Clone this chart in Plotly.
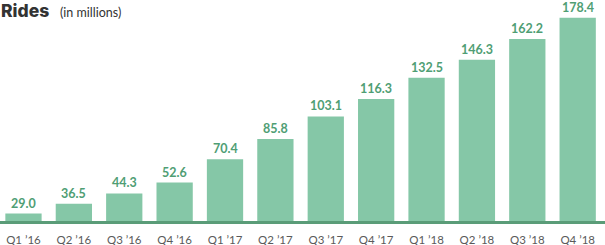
import plotly.graph_objects as go

quarters = ["Q1 ’16", "Q2 ’16", "Q3 ’16", "Q4 ’16",
            "Q1 ’17", "Q2 ’17", "Q3 ’17", "Q4 ’17",
            "Q1 ’18", "Q2 ’18", "Q3 ’18", "Q4 ’18"]
rides = [29.0, 36.5, 44.3, 52.6, 70.4, 85.8, 103.1, 116.3, 132.5, 146.3, 162.2, 178.4]
value_labels = [f"{v:.1f}" for v in rides]

BAR = "#85c7a7"
LABEL = "#4f9e74"
BASE = "#5a9c78"

fig = go.Figure()
fig.add_trace(go.Bar(
    x=list(range(len(quarters))), y=rides,
    marker=dict(color=BAR, line=dict(width=0)),
    hoverinfo="skip",
))

for i, (v, t) in enumerate(zip(rides, value_labels)):
    fig.add_annotation(x=i, y=v, text=t, showarrow=False,
                       xanchor="center", yanchor="bottom", yshift=2, borderpad=0,
                       font=dict(family="Lato", size=12.5, color=LABEL, weight="bold"))

fig.update_layout(
    width=605, height=245,
    margin=dict(l=0, r=0, t=0, b=23.5),
    paper_bgcolor="white", plot_bgcolor="white",
    bargap=0.28, showlegend=False,
    xaxis=dict(range=[-0.466, 11.542], tickmode="array",
               tickvals=list(range(len(quarters))), ticktext=quarters,
               showgrid=False, zeroline=False,
               showline=True, linecolor=BASE, linewidth=2.5,
               ticks="", ticklabelstandoff=6,
               tickfont=dict(family="Lato", size=11.5, color="#5a5a5a")),
    yaxis=dict(range=[23.3, 191.9], showgrid=False, zeroline=False,
               showticklabels=False, showline=False),
    annotations=list(fig.layout.annotations) + [
        dict(xref="paper", yref="paper", x=0, y=1, xanchor="left", yanchor="top",
             xshift=-1, yshift=2, showarrow=False,
             text="Rides",
             font=dict(family="Inter", size=17.5, color="#333333", weight=800)),
        dict(xref="paper", yref="paper", x=0, y=1, xanchor="left", yanchor="top",
             xshift=58, yshift=-3, showarrow=False,
             text="(in millions)",
             font=dict(family="Lato", size=12.5, color="#333333")),
    ],
)

fig.write_html("out.html")
